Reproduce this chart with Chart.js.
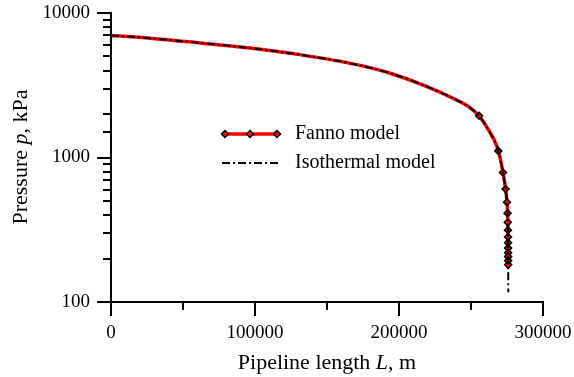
<!DOCTYPE html>
<html lang="en">
<head>
    <meta charset="UTF-8">
    <title>Pressure along pipeline</title>
    <script src="https://cdn.jsdelivr.net/npm/chart.js"></script>
    <style>
        body { margin: 0; padding: 0; background: #fff; }
        #wrap { width: 574px; height: 377px; }
    </style>
</head>
<body>
    <div id="wrap"><canvas id="pressureChart" width="574" height="377"></canvas></div>
    <script>
        // Fanno model curve (L in m, p in kPa)
        const fannoLength = [0, 27000, 61800, 96500, 131000, 170600, 193800, 216900, 240000, 248000, 255600, 259700,
            263200, 266000, 269000, 272200, 274000, 275000, 275400, 275550, 275650, 275700, 275740, 275770, 275790,
            275810, 275825, 275840, 275850];
        const fannoPressure = [7000, 6700, 6210, 5720, 5150, 4390, 3830, 3170, 2500, 2260, 1944, 1700,
            1490, 1325, 1111, 788, 605, 490, 411, 356, 314, 282, 257, 236, 219,
            206, 193, 181, 172];

        // Fanno model markers
        const markerLength = [255600, 269000, 272200, 274000, 275000, 275400, 275550, 275650, 275700, 275740,
            275770, 275790, 275810, 275825, 275840];
        const markerPressure = [1944, 1111, 788, 605, 490, 411, 356, 314, 282, 257, 236, 219, 206, 193, 181];

        // Isothermal model
        const isoLength = [0, 27000, 61800, 96500, 131000, 170600, 193800, 216900, 240000, 248000, 255600, 259700,
            263200, 266000, 269000, 272200, 274000, 275000, 275400, 275550, 275650, 275700, 275740, 275770, 275790,
            275810, 275825, 275840, 275870, 275900];
        const isoPressure = [7000, 6700, 6210, 5720, 5150, 4390, 3830, 3170, 2500, 2260, 1944, 1700,
            1490, 1325, 1111, 788, 605, 490, 411, 356, 314, 282, 257, 236, 219,
            206, 193, 181, 150, 117];

        const seriesNames = ['Fanno model', 'Isothermal model'];
        const xTitle = [['Pipeline length ', false], ['L', true], [', m', false]];
        const yTitle = [['Pressure ', false], ['p', true], [', kPa', false]];

        const serif = 'Liberation Serif, Times New Roman, serif';
        const toPoints = (xs, ys) => xs.map((x, i) => ({ x: x, y: ys[i] }));
        const isDecade = v => Math.abs(Math.log10(v) - Math.round(Math.log10(v))) < 1e-9;
        const isMajorX = v => v % 100000 === 0;

        function drawRich(ctx, parts, size, x, y) {
            // parts drawn centred on x, baseline at y
            let total = 0;
            parts.forEach(p => {
                ctx.font = (p[1] ? 'italic ' : '') + size + 'px ' + serif;
                total += ctx.measureText(p[0]).width;
            });
            let cx = x - total / 2;
            parts.forEach(p => {
                ctx.font = (p[1] ? 'italic ' : '') + size + 'px ' + serif;
                ctx.fillText(p[0], cx, y);
                cx += ctx.measureText(p[0]).width;
            });
        }

        // keep the plot area where the picture has it
        function noLabelPadding(s) {
            s.paddingTop = 0;
            s.paddingBottom = 0;
            s.paddingLeft = 0;
            s.paddingRight = 0;
        }

        // minor ticks, axis titles and legend
        const decorations = {
            id: 'decorations',
            afterDraw(chart) {
                const ctx = chart.ctx;
                const a = chart.chartArea;
                const xs = chart.scales.x, ys = chart.scales.y;
                ctx.save();
                ctx.strokeStyle = '#000';
                ctx.lineWidth = 2;
                ctx.beginPath();
                xs.ticks.forEach(t => {
                    if (!isMajorX(t.value)) {
                        const px = Math.round(xs.getPixelForValue(t.value));
                        ctx.moveTo(px, a.bottom);
                        ctx.lineTo(px, a.bottom + 8);
                    }
                });
                ys.ticks.forEach(t => {
                    if (!isDecade(t.value)) {
                        const py = Math.round(ys.getPixelForValue(t.value));
                        ctx.moveTo(a.left - 8, py);
                        ctx.lineTo(a.left, py);
                    }
                });
                ctx.stroke();

                ctx.fillStyle = '#000';
                ctx.textBaseline = 'alphabetic';
                ctx.textAlign = 'left';
                drawRich(ctx, xTitle, 22, (a.left + a.right) / 2, 369);
                ctx.save();
                ctx.translate(27, 157);
                ctx.rotate(-Math.PI / 2);
                drawRich(ctx, yTitle, 22, 0, 0);
                ctx.restore();

                // legend
                const iso = chart.data.datasets[0];
                const fanno = chart.data.datasets[1];
                const marks = chart.data.datasets[2];
                const lx0 = 222, lx1 = 278, row1 = 134, row2 = 163, tx = 295;
                ctx.beginPath();
                ctx.strokeStyle = fanno.borderColor;
                ctx.lineWidth = fanno.borderWidth;
                ctx.moveTo(lx0, row1);
                ctx.lineTo(lx1, row1);
                ctx.stroke();
                const r = marks.pointRadius;
                [lx0 + 3, (lx0 + lx1) / 2, lx1 - 1].forEach(px => {
                    ctx.fillStyle = marks.pointBackgroundColor;
                    ctx.strokeStyle = marks.pointBorderColor;
                    ctx.lineWidth = marks.pointBorderWidth;
                    ctx.beginPath();
                    ctx.moveTo(px, row1 - r);
                    ctx.lineTo(px + r, row1);
                    ctx.lineTo(px, row1 + r);
                    ctx.lineTo(px - r, row1);
                    ctx.closePath();
                    ctx.fill();
                    ctx.stroke();
                });
                ctx.beginPath();
                ctx.strokeStyle = iso.borderColor;
                ctx.lineWidth = iso.borderWidth;
                ctx.setLineDash(iso.borderDash);
                ctx.moveTo(lx0, row2);
                ctx.lineTo(lx1, row2);
                ctx.stroke();
                ctx.setLineDash([]);

                ctx.fillStyle = '#000';
                ctx.font = '20px ' + serif;
                ctx.textBaseline = 'middle';
                ctx.fillText(seriesNames[0], tx, row1);
                ctx.fillText(seriesNames[1], tx, row2);
                ctx.restore();
            }
        };

        const ctx = document.getElementById('pressureChart').getContext('2d');
        const chart = new Chart(ctx, {
            type: 'line',
            data: {
                datasets: [{
                    label: seriesNames[1],
                    data: toPoints(isoLength, isoPressure),
                    borderColor: '#000',
                    borderWidth: 2,
                    borderDash: [8, 3, 2, 3],
                    pointRadius: 0,
                    cubicInterpolationMode: 'monotone',
                    fill: false,
                    order: 1
                }, {
                    label: seriesNames[0],
                    data: toPoints(fannoLength, fannoPressure),
                    borderColor: '#ff0000',
                    borderWidth: 3.5,
                    pointRadius: 0,
                    cubicInterpolationMode: 'monotone',
                    fill: false,
                    order: 3
                }, {
                    label: seriesNames[0] + ' markers',
                    data: toPoints(markerLength, markerPressure),
                    showLine: false,
                    pointStyle: 'rectRot',
                    pointRadius: 3.5,
                    pointBorderWidth: 1.5,
                    pointBorderColor: '#000',
                    pointBackgroundColor: '#ff0000',
                    order: 2
                }]
            },
            options: {
                responsive: false,
                animation: false,
                events: [],
                layout: { padding: { left: 0, top: 13, right: 31, bottom: 0 } },
                plugins: { legend: { display: false }, tooltip: { enabled: false } },
                scales: {
                    x: {
                        type: 'linear',
                        min: 0,
                        max: 300000,
                        afterFit: s => { s.height = 75; noLabelPadding(s); },
                        border: { display: true, color: '#000', width: 2 },
                        grid: {
                            drawOnChartArea: false,
                            drawTicks: true,
                            tickLength: 14,
                            lineWidth: 2,
                            tickColor: c => (c.tick && isMajorX(c.tick.value)) ? '#000' : 'rgba(0,0,0,0)'
                        },
                        ticks: {
                            stepSize: 50000,
                            autoSkip: false,
                            maxRotation: 0,
                            padding: 6,
                            color: '#000',
                            font: { family: serif, size: 19 },
                            callback: v => isMajorX(v) ? String(v) : ''
                        }
                    },
                    y: {
                        type: 'logarithmic',
                        min: 100,
                        max: 10000,
                        afterFit: s => { s.width = 111; noLabelPadding(s); },
                        border: { display: true, color: '#000', width: 2 },
                        grid: {
                            drawOnChartArea: false,
                            drawTicks: true,
                            tickLength: 14,
                            lineWidth: 2,
                            tickColor: c => (c.tick && isDecade(c.tick.value)) ? '#000' : 'rgba(0,0,0,0)'
                        },
                        ticks: {
                            autoSkip: false,
                            padding: 7,
                            color: '#000',
                            font: { family: serif, size: 19 },
                            callback: v => isDecade(v) ? String(v) : ''
                        }
                    }
                }
            },
            plugins: [decorations]
        });
    </script>
</body>
</html>
